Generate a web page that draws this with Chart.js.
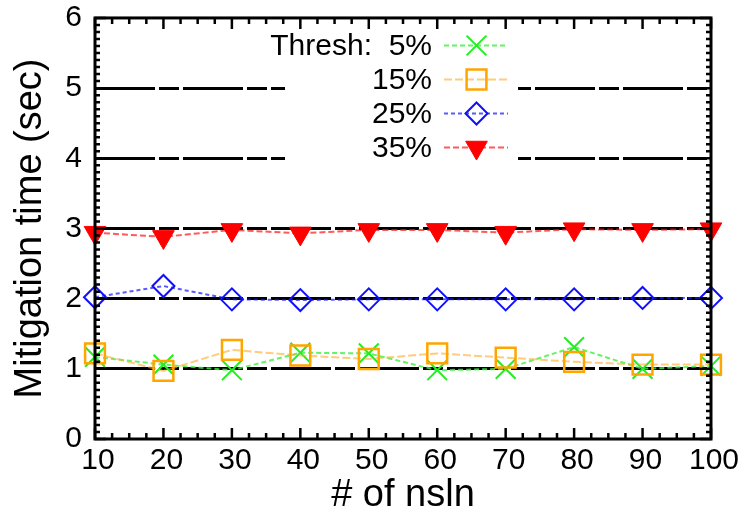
<!DOCTYPE html>
<html>
<head>
<meta charset="utf-8">
<script src="https://cdn.jsdelivr.net/npm/chart.js@4.4.1/dist/chart.umd.min.js"></script>
<style>
  html, body { margin: 0; padding: 0; background: #fff; }
  #wrap { width: 743px; height: 515px; position: relative; }
</style>
</head>
<body>
<div id="wrap"><canvas id="chart"></canvas></div>
<script>
// number of nsln (x axis)
const nsln = [10, 20, 30, 40, 50, 60, 70, 80, 90, 100];

// mitigation time (sec) per threshold
const thresh5 = [1.17, 1.06, 0.98, 1.23, 1.22, 0.98, 1.00, 1.31, 1.00, 1.04];
const thresh15 = [1.22, 0.97, 1.27, 1.19, 1.14, 1.22, 1.16, 1.10, 1.06, 1.06];
const thresh25 = [2.02, 2.18, 1.99, 1.98, 1.99, 1.99, 1.99, 1.99, 2.01, 2.01];
const thresh35 = [2.94, 2.88, 2.98, 2.93, 2.98, 2.98, 2.94, 2.99, 2.98, 2.99];

const seriesLabels = ['Thresh:  5%', '15%', '25%', '35%'];
const yTicks = [0, 1, 2, 3, 4, 5, 6];

const FONT = "'Liberation Sans', Arial, sans-serif";
Chart.defaults.color = '#000';
Chart.defaults.font.family = FONT;

const toPoints = vals => nsln.map((x, i) => ({ x, y: vals[i] }));

// gnuplot-like line styles
const styles = [
  { color: '#22ee22', line: 'rgba(60,240,60,0.8)', dash: [5, 3], width: 2,
    pointStyle: 'crossRot', radius: 14, bw: 2, fill: 'rgba(0,0,0,0)', rotation: 0 },
  { color: '#ffa500', line: 'rgba(255,170,40,0.6)', dash: [8, 3], width: 2,
    pointStyle: 'rect', radius: 14, bw: 2.5, fill: 'rgba(0,0,0,0)', rotation: 0 },
  { color: '#1010ff', line: 'rgba(20,20,255,0.7)', dash: [4, 3], width: 2,
    pointStyle: 'rectRot', radius: 11, bw: 2, fill: 'rgba(0,0,0,0)', rotation: 0 },
  { color: '#ff0000', line: 'rgba(255,20,20,0.7)', dash: [6, 3], width: 2,
    pointStyle: 'triangle', radius: 12.5, bw: 1, fill: '#ff0000', rotation: 180 }
];

const allSeries = [thresh5, thresh15, thresh25, thresh35];

const datasets = allSeries.map((vals, i) => {
  const s = styles[i];
  return {
    label: seriesLabels[i],
    data: toPoints(vals),
    borderColor: s.line,
    borderWidth: s.width,
    borderDash: s.dash,
    pointStyle: s.pointStyle,
    pointRadius: s.radius,
    pointRotation: s.rotation,
    pointBorderWidth: s.bw,
    pointBorderColor: s.color,
    pointBackgroundColor: s.fill,
    tension: 0,
    fill: false,
    clip: false,
    order: 3 - i
  };
});

// white key box over the grid, with the key entries
const keyPlugin = {
  id: 'gnuKey',
  beforeDatasetsDraw(chart) {
    const ctx = chart.ctx;
    ctx.save();
    ctx.fillStyle = '#fff';
    ctx.fillRect(285, 27, 233, 136);
    ctx.restore();
  },
  afterDraw(chart) {
    const ctx = chart.ctx;
    ctx.save();
    chart.data.datasets.forEach((ds, i) => {
      const s = styles[i];
      const y = 45.5 + i * 34;
      ctx.font = '30px ' + FONT;
      ctx.fillStyle = '#000';
      ctx.textAlign = 'right';
      ctx.textBaseline = 'middle';
      ctx.fillText(ds.label, 432, y + 1);

      ctx.strokeStyle = s.line;
      ctx.lineWidth = s.width;
      ctx.setLineDash(s.dash);
      ctx.beginPath();
      ctx.moveTo(444, y);
      ctx.lineTo(508, y);
      ctx.stroke();

      ctx.setLineDash([]);
      ctx.strokeStyle = s.color;
      ctx.fillStyle = s.fill;
      ctx.lineWidth = s.bw;
      Chart.helpers.drawPoint(ctx, {
        pointStyle: s.pointStyle, rotation: s.rotation,
        radius: s.radius, borderWidth: s.bw
      }, 476.5, y);
    });
    ctx.restore();
  }
};

// frame with inward major/minor ticks on all four sides
const framePlugin = {
  id: 'gnuFrame',
  afterDatasetsDraw(chart) {
    const { ctx, chartArea: a, scales } = chart;
    const xs = scales.x, ys = scales.y;
    ctx.save();
    ctx.strokeStyle = '#000';
    ctx.lineWidth = 2.5;
    ctx.setLineDash([]);
    ctx.beginPath();
    for (let v = 10; v <= 100.001; v += 2.5) {
      const px = xs.getPixelForValue(v);
      const len = Math.abs((v - 10) % 10) < 0.01 ? 11 : 6;
      ctx.moveTo(px, a.bottom); ctx.lineTo(px, a.bottom - len);
      ctx.moveTo(px, a.top); ctx.lineTo(px, a.top + len);
    }
    for (let k = 0; k <= 60; k++) {
      const py = ys.getPixelForValue(k / 10);
      const len = k % 10 === 0 ? 11 : 5;
      ctx.moveTo(a.left, py); ctx.lineTo(a.left + len, py);
      ctx.moveTo(a.right, py); ctx.lineTo(a.right - len, py);
    }
    ctx.stroke();
    ctx.lineWidth = 3;
    ctx.strokeRect(a.left, a.top, a.right - a.left, a.bottom - a.top);
    ctx.restore();
  }
};

new Chart(document.getElementById('chart'), {
  type: 'line',
  data: { datasets },
  options: {
    responsive: true,
    maintainAspectRatio: false,
    animation: false,
    layout: { padding: { top: 0, right: 32, left: 0, bottom: 0 } },
    plugins: {
      legend: { display: false },
      tooltip: { enabled: false }
    },
    scales: {
      x: {
        type: 'linear',
        min: 10,
        max: 100,
        afterFit: s => { s.height = 76; },
        ticks: {
          stepSize: 10,
          font: { size: 30 },
          padding: 4,
          labelOffset: 3,
          maxRotation: 0
        },
        grid: { display: false, drawTicks: false },
        border: { display: false },
        title: {
          display: true,
          text: '# of nsln',
          font: { size: 38, lineHeight: 1 },
          padding: { top: 0, bottom: 0 }
        }
      },
      y: {
        type: 'linear',
        min: 0,
        max: 6,
        afterFit: s => { s.width = 95; },
        afterBuildTicks: s => { s.ticks = yTicks.map(v => ({ value: v })); },
        ticks: {
          // small lineHeight only trims the top padding Chart.js reserves
          font: { size: 30, lineHeight: 0.33 },
          padding: 13
        },
        grid: {
          drawTicks: false,
          lineWidth: 3,
          color: c => (c.tick && (c.tick.value === 0 || c.tick.value === 6)) ? 'rgba(0,0,0,0)' : '#000'
        },
        border: { display: false, dash: [60, 4, 20, 4] },
        title: {
          display: true,
          text: 'Mitigation time (sec)',
          font: { size: 38, lineHeight: 1 },
          padding: { top: 12, bottom: 0 }
        }
      }
    }
  },
  plugins: [keyPlugin, framePlugin]
});
</script>
</body>
</html>
